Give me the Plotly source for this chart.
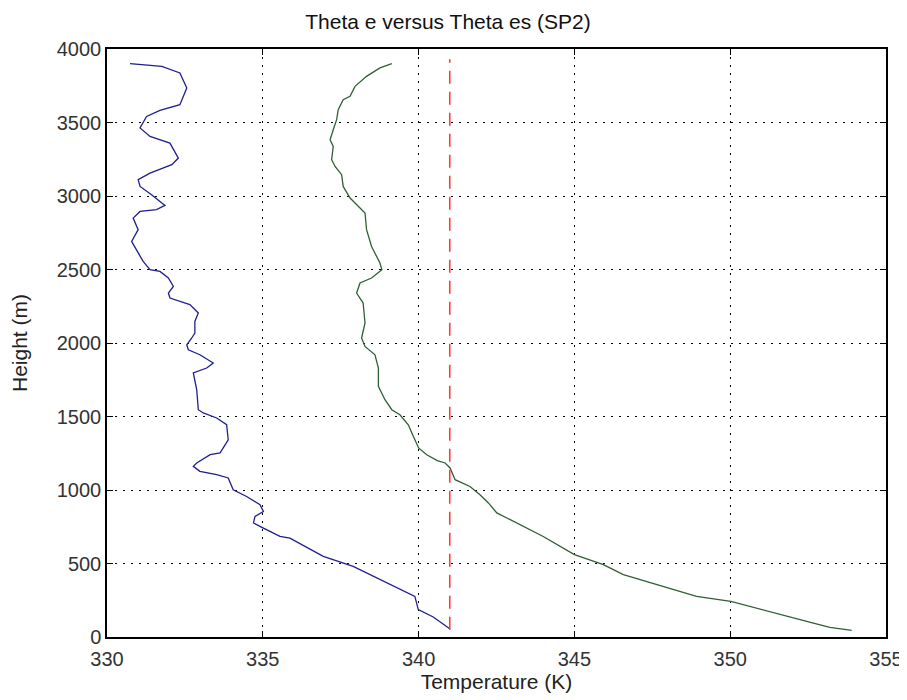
import plotly.graph_objects as go

# Theta e (blue) profile: height (m) and temperature (K)
theta_e_height = [3900, 3882, 3837, 3735, 3621, 3582, 3541, 3463, 3405, 3360, 3258, 3213,
                  3156, 3111, 3065, 3009, 2952, 2936, 2907, 2895, 2850, 2771, 2691, 2635,
                  2555, 2499, 2487, 2442, 2385, 2340, 2306, 2261, 2204, 2147, 2068, 2034,
                  1988, 1954, 1920, 1864, 1830, 1796, 1682, 1546, 1524, 1490, 1444, 1342,
                  1252, 1240, 1184, 1161, 1127, 1104, 1082, 1002, 956, 900, 854, 820,
                  776, 741, 684, 673, 548, 480, 401, 322, 276, 186, 136, 54]
theta_e_temp = [330.74, 331.76, 332.34, 332.56, 332.34, 331.70, 331.27, 331.06, 331.38, 332.02, 332.29, 332.08,
                331.38, 331.00, 331.06, 331.43, 331.76, 331.86, 331.59, 331.06, 330.84, 331.00, 330.79, 330.95,
                331.16, 331.38, 331.70, 331.97, 332.13, 331.97, 332.02, 332.66, 332.93, 332.82, 332.82, 332.72,
                332.56, 332.61, 332.98, 333.41, 333.20, 332.77, 332.88, 332.93, 333.09, 333.52, 333.84, 333.89,
                333.63, 333.31, 332.88, 332.77, 332.98, 333.52, 333.89, 334.05, 334.48, 334.91, 335.02, 334.75,
                334.70, 335.02, 335.55, 335.87, 336.94, 337.90, 338.66, 339.40, 339.88, 339.99, 340.47, 341.01]

# Theta es (green) profile
theta_es_height = [3900, 3871, 3814, 3746, 3678, 3655, 3587, 3519, 3451, 3383, 3337, 3247,
                   3201, 3145, 3065, 2986, 2918, 2884, 2771, 2657, 2544, 2499, 2442, 2408,
                   2340, 2272, 2136, 2034, 1977, 1920, 1830, 1705, 1614, 1546, 1512, 1444,
                   1365, 1286, 1240, 1200, 1184, 1150, 1070, 1024, 968, 912, 844, 776,
                   684, 560, 492, 424, 356, 276, 242, 197, 140, 95, 65, 45]
theta_es_temp = [339.14, 338.76, 338.33, 337.96, 337.80, 337.58, 337.42, 337.37, 337.26, 337.16, 337.26, 337.21,
                 337.32, 337.53, 337.58, 337.80, 338.12, 338.28, 338.33, 338.49, 338.76, 338.82, 338.49, 338.12,
                 338.01, 338.22, 338.28, 338.17, 338.28, 338.60, 338.71, 338.71, 338.92, 339.14, 339.40, 339.67,
                 339.83, 340.00, 340.26, 340.60, 340.85, 341.01, 341.17, 341.65, 341.97, 342.24, 342.51, 343.15,
                 344.00, 345.00, 345.93, 346.57, 347.64, 348.92, 350.02, 350.85, 351.92, 352.67, 353.20, 353.90]

# Reference dashed line
ref_temp = [341.0, 341.0]
ref_height = [50, 3930]

x_ticks = [330, 335, 340, 345, 350, 355]
y_ticks = [0, 500, 1000, 1500, 2000, 2500, 3000, 3500, 4000]

fig = go.Figure()
fig.add_trace(go.Scatter(x=theta_e_temp, y=theta_e_height, mode="lines",
                         line=dict(color="#1f1f8f", width=1.3), name="Theta e"))
fig.add_trace(go.Scatter(x=theta_es_temp, y=theta_es_height, mode="lines",
                         line=dict(color="#2f5f34", width=1.3), name="Theta es"))
fig.add_trace(go.Scatter(x=ref_temp, y=ref_height, mode="lines",
                         line=dict(color="#ff3b3b", width=1.6, dash="13px,8px"), name="ref"))

font_fam = "Liberation Sans, Arial, sans-serif"
axis_common = dict(
    showline=True, linecolor="black", linewidth=1.5, mirror="ticks",
    ticks="inside", ticklen=6, tickcolor="black", tickwidth=1,
    showgrid=True, gridcolor="black", gridwidth=1, griddash="1.5px,6.5px",
    zeroline=False, tickfont=dict(family=font_fam, size=20, color="#333333"),
    automargin=False,
)

fig.update_layout(
    width=907, height=700,
    paper_bgcolor="white", plot_bgcolor="white",
    showlegend=False,
    margin=dict(l=99, r=29, t=41, b=71),
    title=dict(text="Theta e versus Theta es (SP2)", x=440 / 907, xanchor="center",
               y=1 - 14 / 700, yanchor="middle", yref="container",
               font=dict(family=font_fam, size=21, color="#111111")),
    xaxis=dict(range=[330, 355], tickvals=x_ticks, ticktext=[str(v) for v in x_ticks],
               ticklabelstandoff=3,
               title=dict(text="Temperature (K)", standoff=4,
                          font=dict(family=font_fam, size=21, color="#222222")),
               **axis_common),
    yaxis=dict(range=[0, 4000], tickvals=y_ticks, ticktext=[str(v) for v in y_ticks],
               title=dict(text="Height (m)", standoff=24,
                          font=dict(family=font_fam, size=21, color="#222222")),
               **axis_common),
)

fig.write_html("out.html")
